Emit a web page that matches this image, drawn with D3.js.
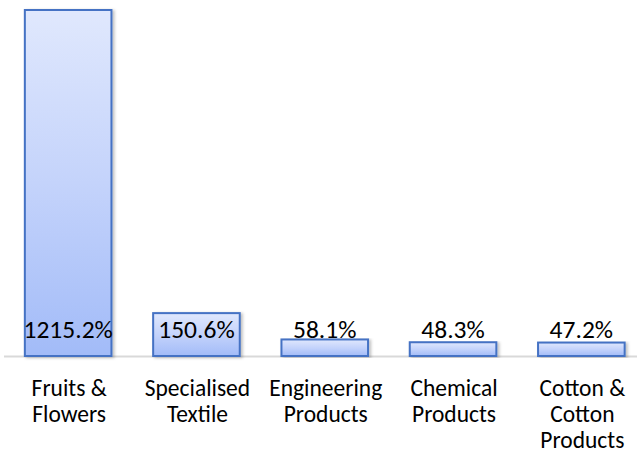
<!DOCTYPE html>
<html>
<head>
<meta charset="utf-8">
<script src="https://cdn.jsdelivr.net/npm/d3@7"></script>
<style>
  body { margin: 0; background: #fff; }
  svg { display: block; }
</style>
</head>
<body>
<script>
const categories = [
  ["Fruits &", "Flowers"],
  ["Specialised", "Textile"],
  ["Engineering", "Products"],
  ["Chemical", "Products"],
  ["Cotton &", "Cotton", "Products"]
];
const values = [1215.2, 150.6, 58.1, 48.3, 47.2];
const valueLabels = ["1215.2%", "150.6%", "58.1%", "48.3%", "47.2%"];

const w = 641;
const h = 458;
const baseY = 356;

const x = d3.scaleBand()
            .domain(d3.range(values.length))
            .range([4, 645.5])
            .paddingInner(0.325)
            .paddingOuter(0.1625);
const y = d3.scaleLinear()
            .domain([0, d3.max(values)])
            .range([baseY, 10]);

const svg = d3.select("body")
              .append("svg")
              .attr("width", w)
              .attr("height", h);

const defs = svg.append("defs");
const grad = defs.append("linearGradient")
                 .attr("id", "barFill")
                 .attr("x1", 0).attr("y1", 0)
                 .attr("x2", 0).attr("y2", 1);
grad.append("stop").attr("offset", "0%").attr("stop-color", "#e0e8fd");
grad.append("stop").attr("offset", "50%").attr("stop-color", "#c4d3fb");
grad.append("stop").attr("offset", "100%").attr("stop-color", "#a2bbf8");

const shadow = defs.append("filter")
                   .attr("id", "shadow")
                   .attr("x", "-20%").attr("y", "-5%")
                   .attr("width", "140%").attr("height", "115%");
shadow.append("feDropShadow")
      .attr("dx", 2).attr("dy", 1)
      .attr("stdDeviation", 1.5)
      .attr("flood-color", "#000")
      .attr("flood-opacity", 0.25);

// axis line
svg.append("line")
   .attr("x1", 4).attr("x2", 637)
   .attr("y1", baseY + 0.5).attr("y2", baseY + 0.5)
   .attr("stroke", "#d9d9d9")
   .attr("stroke-width", 2);

svg.selectAll("rect.bar")
   .data(values)
   .enter()
   .append("rect")
   .attr("class", "bar")
   .attr("x", (d, i) => x(i))
   .attr("y", d => y(d))
   .attr("width", x.bandwidth())
   .attr("height", d => baseY - y(d))
   .attr("fill", "url(#barFill)")
   .attr("stroke", "#4472c4")
   .attr("stroke-width", 2)
   .attr("filter", "url(#shadow)");

svg.selectAll("text.val")
   .data(valueLabels)
   .enter()
   .append("text")
   .attr("class", "val")
   .attr("x", (d, i) => x(i) + x.bandwidth() / 2)
   .attr("y", baseY - 18)
   .attr("text-anchor", "middle")
   .attr("font-family", "Carlito, Calibri, 'Liberation Sans', Arial, sans-serif")
   .attr("font-size", 25.5)
   .attr("fill", "#000")
   .text(d => d);

const cat = svg.selectAll("text.cat")
   .data(categories)
   .enter()
   .append("text")
   .attr("class", "cat")
   .attr("x", (d, i) => x(i) + x.bandwidth() / 2 + 1)
   .attr("y", 396)
   .attr("text-anchor", "middle")
   .attr("font-family", "Carlito, Calibri, 'Liberation Sans Narrow', 'DejaVu Sans Condensed', sans-serif")
   .attr("font-size", 23.5)
   .attr("fill", "#000");

cat.each(function(lines, i) {
  d3.select(this).selectAll("tspan")
    .data(lines)
    .enter()
    .append("tspan")
    .attr("x", x(i) + x.bandwidth() / 2 + 1)
    .attr("dy", (l, j) => j === 0 ? 0 : 26)
    .text(l => l);
});
</script>
</body>
</html>
